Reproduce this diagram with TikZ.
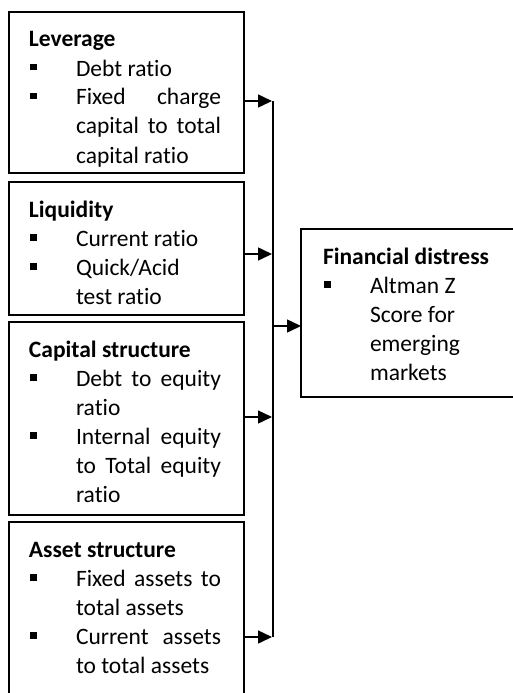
\documentclass[tikz,border=0pt]{standalone}
\usepackage{fontspec}
\setmainfont{Carlito}[Ligatures=NoCommon]
\usetikzlibrary{arrows.meta,calc}
\newcommand\bul{\makebox[47pt][l]{\hspace*{1pt}\raisebox{5.5pt}{\rule{6.5pt}{6.5pt}}}}
\newcommand\cnt{\hspace*{47pt}}
\newcommand\jl[1]{\makebox[145pt][s]{#1}}
\newcommand\boxbody[4]{\parbox[t][#2][t]{#1}{\fontsize{23.5pt}{29pt}\selectfont\leftskip=#3\relax\parindent=0pt\rightskip=0pt plus 1fil\relax\rule{0pt}{35pt}#4\par}}
\tikzset{
  fbox/.style={draw, line width=1.5pt, inner sep=0pt, outer sep=0pt, anchor=north west},
  bus/.style={line width=1.5pt},
  link/.style={line width=1.5pt, shorten >=1pt, -{Triangle[length=14pt,width=13pt]}},
}
\begin{document}
\begin{tikzpicture}[x=1pt,y=-1pt]
\useasboundingbox (0,0) rectangle (512,693);
\node[fbox] (b1) at (9,12) {\boxbody{235pt}{161pt}{20pt}{\textbf{Leverage}\\
\bul Debt ratio\\
\bul\jl{Fixed charge}\\
\cnt\jl{capital to total}\\
\cnt capital ratio}};
\node[fbox] (b2) at (9,182) {\boxbody{235pt}{133pt}{20pt}{\textbf{Liquidity}\\
\bul Current ratio\\
\bul Quick/Acid\\
\cnt test ratio}};
\node[fbox] (b3) at (9,322) {\boxbody{235pt}{193pt}{20pt}{\textbf{Capital structure}\\
\bul\jl{Debt to equity}\\
\cnt ratio\\
\bul\jl{Internal equity}\\
\cnt\jl{to Total equity}\\
\cnt ratio}};
\node[fbox] (b4) at (9,522) {\boxbody{235pt}{185pt}{20pt}{\textbf{Asset structure}\\
\bul\jl{Fixed assets to}\\
\cnt total assets\\
\bul\jl{Current assets}\\
\cnt to total assets}};
\node[fbox] (d) at (301,229) {\boxbody{230pt}{168pt}{22pt}{\textbf{Financial distress}\\
\bul Altman Z\\
\cnt Score for\\
\cnt emerging\\
\cnt markets}};
\coordinate (j1) at (273,101);
\coordinate (j2) at (273,254);
\coordinate (j3) at (273,417);
\coordinate (j4) at (273,637);
\coordinate (jd) at (273,326);
\draw[bus] (j1) -- (j4);
\draw[link] (b1.east |- j1) -- (j1);
\draw[link] (b2.east |- j2) -- (j2);
\draw[link] (b3.east |- j3) -- (j3);
\draw[link] (b4.east |- j4) -- (j4);
\draw[link, shorten >=0pt] (jd) -- (d.west |- jd);
\end{tikzpicture}
\end{document}
